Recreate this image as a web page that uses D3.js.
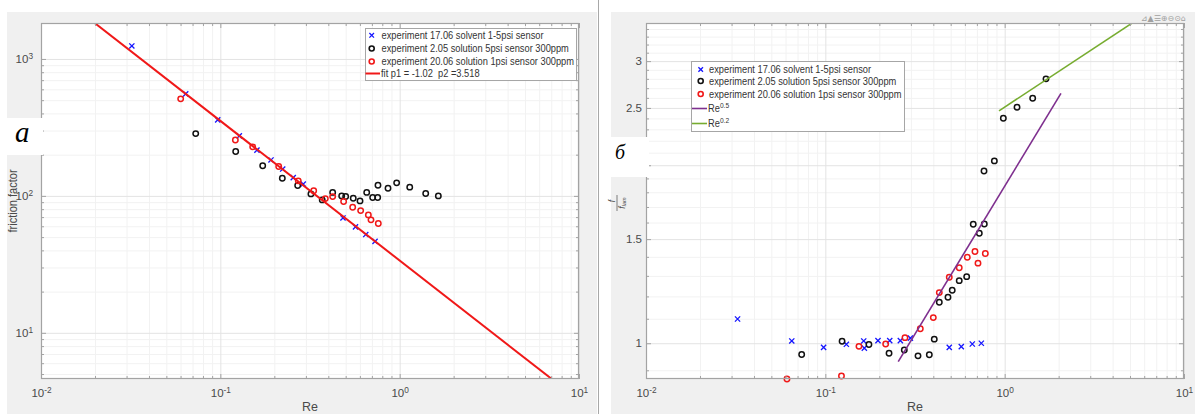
<!DOCTYPE html>
<html><head><meta charset="utf-8">
<script src="https://cdn.jsdelivr.net/npm/d3@7"></script>
<style>
html,body{margin:0;padding:0;background:#fff;}
svg{display:block;font-family:"Liberation Sans Narrow","Liberation Sans",Arial,sans-serif;}
</style></head><body>
<svg id="chart" width="1195" height="414"></svg>
<script>
// ---------------- data ----------------
const xTicks = [0.01, 0.1, 1, 10];
const xTickLabels = [["10","-2"],["10","-1"],["10","0"],["10","1"]];
const leftYTicks = [10, 100, 1000];
const leftYTickLabels = [["10","1"],["10","2"],["10","3"]];
const rightYTicks = [1, 1.5, 2, 2.5, 3];
const rightYTickLabels = ["1","1.5","2","2.5","3"];

const seriesNames = [
  "experiment 17.06 solvent 1-5psi sensor",
  "experiment 2.05 solution 5psi sensor 300ppm",
  "experiment 20.06 solution 1psi sensor 300ppm"
];
const fitLabel = "fit p1 = -1.02  p2 =3.518";
const fitP1 = -1.02;
const fitP2 = 3.518;

// panel a : friction factor vs Re
const leftSolventRe = [0.0321, 0.0641, 0.0967, 0.1276, 0.160, 0.1917, 0.2227, 0.255, 0.290, 0.483, 0.567, 0.647, 0.729];
const leftSolventF  = [1244, 556, 359, 274, 216, 183, 157, 136, 122, 69, 59.4, 52.2, 46.5];
const leftSol5Re = [0.0729, 0.1218, 0.1723, 0.2216, 0.270, 0.320, 0.370, 0.423, 0.475, 0.50, 0.551, 0.601, 0.655, 0.707, 0.754, 0.757, 0.861, 0.962, 1.138, 1.397, 1.643];
const leftSol5F  = [285, 211, 166, 134.6, 119, 103.4, 93.5, 106, 100, 98.9, 96, 91.9, 106, 97.2, 97.2, 119.7, 113.8, 124.5, 115.8, 104, 100];
const leftSol1Re = [0.0601, 0.1213, 0.1515, 0.2116, 0.272, 0.3316, 0.385, 0.423, 0.487, 0.547, 0.606, 0.669, 0.692, 0.760];
const leftSol1F  = [511, 256, 228, 163.7, 128.7, 109, 95.5, 98.8, 90.9, 82.7, 78.1, 72.6, 66.8, 62.9];

// panel б : f / f_lam vs Re
const rightSolventRe = [0.0324, 0.065, 0.0978, 0.131, 0.1637, 0.1650, 0.1966, 0.2286, 0.262, 0.298, 0.491, 0.573, 0.660, 0.741];
const rightSolventR  = [1.099, 1.009, 0.984, 0.996, 1.009, 0.981, 1.01, 1.01, 1.01, 1.02, 0.984, 0.987, 0.997, 1.0];
const rightSol5Re = [0.0738, 0.124, 0.175, 0.2266, 0.2756, 0.3287, 0.38, 0.405, 0.432, 0.483, 0.51, 0.558, 0.614, 0.668, 0.722, 0.77, 0.767, 0.876, 0.983, 1.172, 1.433, 1.70];
const rightSol5R  = [0.957, 1.008, 0.995, 0.962, 0.974, 0.952, 0.956, 1.016, 1.173, 1.196, 1.229, 1.276, 1.296, 1.589, 1.535, 1.591, 1.956, 2.034, 2.402, 2.506, 2.596, 2.80];
const rightSol1Re = [0.0611, 0.123, 0.154, 0.217, 0.278, 0.3385, 0.40, 0.432, 0.491, 0.558, 0.619, 0.683, 0.71, 0.78];
const rightSol1R  = [0.87, 0.88, 0.988, 0.997, 1.022, 1.058, 1.105, 1.218, 1.293, 1.342, 1.398, 1.429, 1.366, 1.418];

// guide power laws  C * Re^n  over [Re start, Re end]
const re05Exp = 0.5, re05Coef = 1.843, re05Range = [0.255, 2.06];
const re02Exp = 0.2, re02Coef = 2.508, re02Range = [0.93, 5.11];

// ---------------- drawing ----------------
const COL = {blue:"#1515ff", black:"#111", red:"#f01818", purple:"#7e2f8e", green:"#77ac30",
             axis:"#a3a3a3", text:"#4a4a4a", gridMaj:"#e3e3e3", gridMin:"#f2f2f2"};
const svg = d3.select("#chart");

svg.append("rect").attr("x",7).attr("y",12).attr("width",590).attr("height",402).attr("fill","#f0f0f0");
svg.append("rect").attr("x",611).attr("y",12).attr("width",584).attr("height",402).attr("fill","#f0f0f0");
svg.append("line").attr("x1",598.5).attr("x2",598.5).attr("y1",0).attr("y2",414).attr("stroke","#a8a8a8").attr("stroke-width",1);

const xL = d3.scaleLog().domain([0.01,10]).range([41,579]);
const yL = d3.scaleLog().domain([4.6,1830]).range([379,23]);
const xR = d3.scaleLog().domain([0.01,10]).range([646,1184]);
const yR = d3.scaleLog().domain([0.87,3.48]).range([379,23]);

function decadeMinors(dom){
  const out=[]; let d=Math.pow(10,Math.floor(Math.log10(dom[0])));
  while(d<dom[1]){ for(let k=2;k<=9;k++){const v=k*d; if(v>dom[0]&&v<dom[1]) out.push(v);} d*=10; }
  return out;
}
const xMinor = decadeMinors([0.01,10]);
const yLMinor = decadeMinors([4.6,1830]);
const yRMinor = d3.range(9,35).map(v=>v/10).filter(v=>!rightYTicks.includes(v));

function styleAxis(g, color){ g.select(".domain").remove(); g.selectAll(".tick line").attr("stroke",color); }

function supLabels(g, ticks, labels){
  g.selectAll(".tick text").each(function(d){
    const lab = labels[ticks.indexOf(d)];
    const t = d3.select(this); t.text(null);
    t.append("tspan").text(lab[0]);
    t.append("tspan").attr("dy","-0.45em").attr("font-size","0.72em").text(lab[1]);
  });
}

function panel(x, y, yMajor, yMinor, clipId){
  const [X0,X1]=x.range(), [Y1,Y0]=y.range();
  const W=X1-X0, H=Y1-Y0;
  svg.append("rect").attr("x",X0).attr("y",Y0).attr("width",W).attr("height",H).attr("fill","#fff");
  const gx1 = svg.append("g").attr("transform",`translate(0,${Y1})`)
    .call(d3.axisBottom(x).tickValues(xMinor).tickSize(-H).tickFormat(""));
  styleAxis(gx1, COL.gridMin);
  const gy1 = svg.append("g").attr("transform",`translate(${X0},0)`)
    .call(d3.axisLeft(y).tickValues(yMinor).tickSize(-W).tickFormat(""));
  styleAxis(gy1, COL.gridMin);
  const gx2 = svg.append("g").attr("transform",`translate(0,${Y1})`)
    .call(d3.axisBottom(x).tickValues(xTicks).tickSize(-H).tickFormat(""));
  styleAxis(gx2, COL.gridMaj);
  const gy2 = svg.append("g").attr("transform",`translate(${X0},0)`)
    .call(d3.axisLeft(y).tickValues(yMajor).tickSize(-W).tickFormat(""));
  styleAxis(gy2, COL.gridMaj);
  svg.append("clipPath").attr("id",clipId).append("rect")
    .attr("x",X0).attr("y",Y0).attr("width",W).attr("height",H);
}

function frame(x, y, yMajor, yMinor, yLabels, sup){
  const [X0,X1]=x.range(), [Y1,Y0]=y.range();
  svg.append("rect").attr("x",X0+0.5).attr("y",Y0+0.5).attr("width",X1-X0-1).attr("height",Y1-Y0-1)
    .attr("fill","none").attr("stroke",COL.axis).attr("stroke-width",1.2);
  [[d3.axisBottom(x),Y1],[d3.axisTop(x),Y0]].forEach(([ax,pos])=>{
    const g=svg.append("g").attr("transform",`translate(0,${pos})`).call(ax.tickValues(xMinor).tickSize(-3).tickFormat(""));
    styleAxis(g,COL.axis);
  });
  [[d3.axisLeft(y),X0],[d3.axisRight(y),X1]].forEach(([ax,pos])=>{
    const g=svg.append("g").attr("transform",`translate(${pos},0)`).call(ax.tickValues(yMinor).tickSize(-3).tickFormat(""));
    styleAxis(g,COL.axis);
  });
  const gb=svg.append("g").attr("transform",`translate(0,${Y1})`)
    .call(d3.axisBottom(x).tickValues(xTicks).tickSizeInner(-5).tickSizeOuter(0).tickPadding(10));
  styleAxis(gb,COL.axis);
  gb.selectAll("text").attr("fill",COL.text).attr("font-size",11.5).attr("font-family",null);
  supLabels(gb, xTicks, xTickLabels);
  const gt=svg.append("g").attr("transform",`translate(0,${Y0})`)
    .call(d3.axisTop(x).tickValues(xTicks).tickSize(-5).tickFormat(""));
  styleAxis(gt,COL.axis);
  const gl=svg.append("g").attr("transform",`translate(${X0},0)`)
    .call(d3.axisLeft(y).tickValues(yMajor).tickSizeInner(-5).tickSizeOuter(0)
      .tickPadding(sup?8:4).tickFormat((d)=> sup? "" : yLabels[yMajor.indexOf(d)]));
  styleAxis(gl,COL.axis);
  gl.selectAll("text").attr("fill",COL.text).attr("font-size",11.5).attr("font-family",null);
  if(sup) supLabels(gl, yMajor, yLabels);
  const gr=svg.append("g").attr("transform",`translate(${X1},0)`)
    .call(d3.axisRight(y).tickValues(yMajor).tickSize(-5).tickFormat(""));
  styleAxis(gr,COL.axis);
}

function crosses(x,y,xs,ys){
  svg.append("g").selectAll("path").data(xs).join("path")
    .attr("transform",(d,i)=>`translate(${x(d)},${y(ys[i])})`)
    .attr("d","M-2.6,-2.6L2.6,2.6M-2.6,2.6L2.6,-2.6")
    .attr("stroke",COL.blue).attr("stroke-width",1.3).attr("fill","none");
}
function circles(x,y,xs,ys,color){
  svg.append("g").selectAll("circle").data(xs).join("circle")
    .attr("cx",d=>x(d)).attr("cy",(d,i)=>y(ys[i])).attr("r",2.7)
    .attr("fill","none").attr("stroke",color).attr("stroke-width",1.5);
}
function powerLine(x,y,coef,expo,range,color,width,clipId){
  const line=d3.line().x(d=>x(d)).y(d=>y(coef*Math.pow(d,expo)));
  svg.append("path").datum(range).attr("d",line).attr("fill","none")
    .attr("stroke",color).attr("stroke-width",width).attr("clip-path",`url(#${clipId})`);
}

// ----- panel a -----
panel(xL,yL,leftYTicks,yLMinor,"clipL");
crosses(xL,yL,leftSolventRe,leftSolventF);
circles(xL,yL,leftSol5Re,leftSol5F,COL.black);
circles(xL,yL,leftSol1Re,leftSol1F,COL.red);
powerLine(xL,yL,Math.exp(fitP2),fitP1,xL.domain(),COL.red,2,"clipL");
frame(xL,yL,leftYTicks,yLMinor,leftYTickLabels,true);

// ----- panel б -----
panel(xR,yR,rightYTicks,yRMinor,"clipR");
crosses(xR,yR,rightSolventRe,rightSolventR);
circles(xR,yR,rightSol5Re,rightSol5R,COL.black);
circles(xR,yR,rightSol1Re,rightSol1R,COL.red);
powerLine(xR,yR,re05Coef,re05Exp,re05Range,COL.purple,1.6,"clipR");
powerLine(xR,yR,re02Coef,re02Exp,re02Range,COL.green,1.6,"clipR");
frame(xR,yR,rightYTicks,yRMinor,rightYTickLabels,false);

// ----- axis titles -----
svg.append("text").attr("x",310).attr("y",411).attr("text-anchor","middle").attr("font-size",12.5).attr("fill",COL.text).text("Re");
svg.append("text").attr("x",915).attr("y",411).attr("text-anchor","middle").attr("font-size",12.5).attr("fill",COL.text).text("Re");
svg.append("text").attr("transform","translate(17,201) rotate(-90) scale(0.92,1)").attr("text-anchor","middle")
  .attr("font-size",12).attr("fill",COL.text).text("friction factor");
const fr = svg.append("g").attr("transform","translate(617,203) rotate(-90)").attr("fill",COL.text);
fr.append("text").attr("x",2).attr("y",-2).attr("text-anchor","middle").attr("font-size",8.5).attr("font-style","italic").text("f");
fr.append("line").attr("x1",-8).attr("x2",8).attr("y1",0).attr("y2",0).attr("stroke",COL.text).attr("stroke-width",0.7);
const den = fr.append("text").attr("x",0).attr("y",7.5).attr("text-anchor","middle").attr("font-size",8.5).attr("font-style","italic");
den.append("tspan").text("f"); den.append("tspan").attr("font-size",5.5).attr("dy",1.5).text("lam");

// ----- legends -----
function legend(x0,y0,w,h,rows){
  svg.append("rect").attr("x",x0+0.5).attr("y",y0+0.5).attr("width",w).attr("height",h)
    .attr("fill","#fff").attr("stroke","#a6a6a6").attr("stroke-width",1);
  rows.forEach(r=>{
    if(r.type==="x") svg.append("path").attr("transform",`translate(${r.mx},${r.y})`)
      .attr("d","M-2.3,-2.3L2.3,2.3M-2.3,2.3L2.3,-2.3").attr("stroke",COL.blue).attr("stroke-width",1.3);
    if(r.type==="o") svg.append("circle").attr("cx",r.mx).attr("cy",r.y).attr("r",2.5)
      .attr("fill","none").attr("stroke",r.color).attr("stroke-width",1.6);
    if(r.type==="l") svg.append("line").attr("x1",r.l0).attr("x2",r.l1).attr("y1",r.y).attr("y2",r.y)
      .attr("stroke",r.color).attr("stroke-width",r.w);
    const t=svg.append("text").attr("transform",`translate(${r.tx},${r.y+3.6}) scale(0.885,1)`)
      .attr("font-size",10.5).attr("fill","#333").style("white-space","pre");
    if(r.sup){ t.append("tspan").text(r.label); t.append("tspan").attr("dy",-4).attr("font-size",7.5).text(r.sup); }
    else t.text(r.label);
  });
}
legend(365,28,211,52,[
  {type:"x",mx:371.7,y:35.3,tx:381.5,label:seriesNames[0]},
  {type:"o",mx:371.7,y:48.5,tx:381.5,label:seriesNames[1],color:COL.black},
  {type:"o",mx:371.7,y:61.5,tx:381.5,label:seriesNames[2],color:COL.red},
  {type:"l",l0:365.5,l1:380,y:73.5,tx:381,label:fitLabel,color:COL.red,w:2}
]);
legend(691,61,213,70,[
  {type:"x",mx:700.7,y:69.5,tx:709,label:seriesNames[0]},
  {type:"o",mx:700.7,y:81,tx:709,label:seriesNames[1],color:COL.black},
  {type:"o",mx:700.7,y:94,tx:709,label:seriesNames[2],color:COL.red},
  {type:"l",l0:692,l1:707,y:108.5,tx:708,label:"Re",sup:"0.5",color:COL.purple,w:1.6},
  {type:"l",l0:692,l1:707,y:123.5,tx:708,label:"Re",sup:"0.2",color:COL.green,w:1.6}
]);

// ----- panel letters -----
svg.append("rect").attr("x",7).attr("y",118).attr("width",36).attr("height",37).attr("fill","#fff");
svg.append("text").attr("x",15).attr("y",142).attr("font-family","'Liberation Serif',serif").attr("font-style","italic")
  .attr("font-size",29).attr("fill","#000").text("а");
svg.append("rect").attr("x",611).attr("y",137).attr("width",38).attr("height",40).attr("fill","#fff");
svg.append("text").attr("x",615).attr("y",159).attr("font-family","'Liberation Serif',serif").attr("font-style","italic")
  .attr("font-size",20).attr("fill","#000").text("б");

// toolbar glyphs
svg.append("text").attr("x",1186).attr("y",21).attr("text-anchor","end").attr("font-family","'DejaVu Sans',sans-serif")
  .attr("font-size",8).attr("fill","#a0a0a0").text("⊿▲☰⊕⊖⊙⌂");
</script>
</body></html>
